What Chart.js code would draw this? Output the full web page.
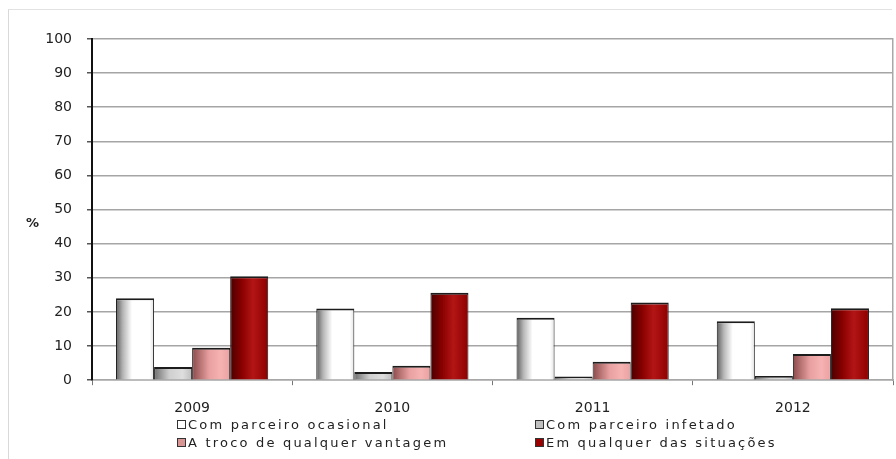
<!DOCTYPE html>
<html>
<head>
<meta charset="utf-8">
<script src="https://cdn.jsdelivr.net/npm/chart.js@4"></script>
<style>
    body { margin: 0; background: #fff; }
    #wrap { position: relative; width: 896px; height: 459px; overflow: hidden; }
    #frame { position: absolute; left: 8px; top: 9px; width: 883px; height: 460px;
             border-left: 1px solid #d9d9d9; border-top: 1px solid #e2e2e2; }
    #ytitle { position: absolute; left: 26px; top: 216px; font: bold 13px "DejaVu Sans"; line-height: 14px; color: #222; }
    .leg { position: absolute; display: flex; align-items: center; height: 16px;
           font: 13px "DejaVu Sans"; letter-spacing: 2.2px; color: #222; white-space: nowrap; }
    .leg i { display: inline-block; width: 7px; height: 7px; border: 1px solid #333; margin-right: 2px; }
</style>
</head>
<body>
<div id="wrap">
    <div id="frame"></div>
    <canvas id="chart" width="896" height="459"></canvas>
    <div id="ytitle">%</div>
</div>
<script>
// Years on the x axis
const years = ['2009', '2010', '2011', '2012'];

// Series names (legend)
const seriesNames = [
    'Com parceiro ocasional',
    'Com parceiro infetado',
    'A troco de qualquer vantagem',
    'Em qualquer das situações'
];

// Values (%)
const ocasional = [24.0, 21.0, 18.3, 17.3];
const infetado = [3.9, 2.4, 1.1, 1.2];
const vantagem = [9.5, 4.2, 5.4, 7.7];
const qualquer = [30.5, 25.6, 22.8, 21.1];

// Legend swatch colours
const legendColors = ['#ffffff', '#c0c0c0', '#d99594', '#9b0000'];

// Horizontal "cylinder" shading for each series
const shades = [
    [[0, '#5e5e5e'], [0.18, '#b5b5b5'], [0.42, '#ffffff'], [0.88, '#ffffff'], [1, '#e2e2e2']],
    [[0, '#6e6e6e'], [0.4, '#cfcfcf'], [0.75, '#dedede'], [1, '#bdbdbd']],
    [[0, '#8b4a4a'], [0.45, '#e9a0a0'], [0.75, '#f6b2b2'], [1, '#eba0a0']],
    [[0, '#4a0000'], [0.3, '#880000'], [0.6, '#b31515'], [1, '#8e0000']]
];

const CAT_PCT = 0.76;

function barFill(series) {
    return (c) => {
        const chart = c.chart;
        const xs = chart.scales.x;
        if (c.type !== 'data' || !chart.chartArea || !xs) return legendColors[series];
        const catW = xs.width / years.length;
        const groupW = catW * CAT_PCT;
        const barW = groupW / seriesNames.length;
        const left = xs.getPixelForValue(c.dataIndex) - groupW / 2 + c.datasetIndex * barW;
        const g = chart.ctx.createLinearGradient(left, 0, left + barW, 0);
        shades[series].forEach(([o, col]) => g.addColorStop(o, col));
        return g;
    };
}

const values = [ocasional, infetado, vantagem, qualquer];

const datasets = values.map((v, i) => ({
    label: seriesNames[i],
    data: v,
    backgroundColor: barFill(i),
    borderColor: '#1c1c1c',
    borderWidth: { top: 2, left: 1, right: 1, bottom: 0 },
    categoryPercentage: CAT_PCT,
    barPercentage: 1.0
}));

const tickFont = { family: 'DejaVu Sans', size: 14 };

new Chart(document.getElementById('chart'), {
    type: 'bar',
    data: { labels: years, datasets },
    options: {
        responsive: false,
        animation: false,
        layout: { padding: { top: 39, right: 3, bottom: 27, left: 0 } },
        plugins: {
            legend: { display: false },
            tooltip: { enabled: false }
        },
        scales: {
            x: {
                offset: true,
                grid: { display: true, offset: true, drawOnChartArea: false, tickLength: 5, tickColor: '#777' },
                border: { color: '#a8a8a8', width: 1.5 },
                ticks: { font: tickFont, color: '#222', padding: 15 }
            },
            y: {
                min: 0,
                max: 100,
                afterFit: (axis) => { axis.width = 92; },
                grid: { color: '#a5a5a5', lineWidth: 1.5, tickLength: 5, tickColor: '#555' },
                border: { color: '#111', width: 2 },
                ticks: { stepSize: 10, font: tickFont, color: '#222', padding: 15 }
            },
            y2: {
                position: 'right',
                display: true,
                min: 0,
                max: 100,
                afterFit: (axis) => { axis.width = 0; },
                grid: { drawOnChartArea: false, drawTicks: false },
                border: { color: '#a8a8a8', width: 1.5 },
                ticks: { display: false }
            }
        }
    }
});

// Legend below the plot, two columns as in the original
const legendPos = [[177, 416], [535, 416], [177, 434], [535, 434]];
const wrap = document.getElementById('wrap');
seriesNames.forEach((name, i) => {
    const item = document.createElement('div');
    item.className = 'leg';
    item.style.left = legendPos[i][0] + 'px';
    item.style.top = legendPos[i][1] + 'px';
    const box = document.createElement('i');
    box.style.background = legendColors[i];
    item.appendChild(box);
    item.appendChild(document.createTextNode(name));
    wrap.appendChild(item);
});
</script>
</body>
</html>
